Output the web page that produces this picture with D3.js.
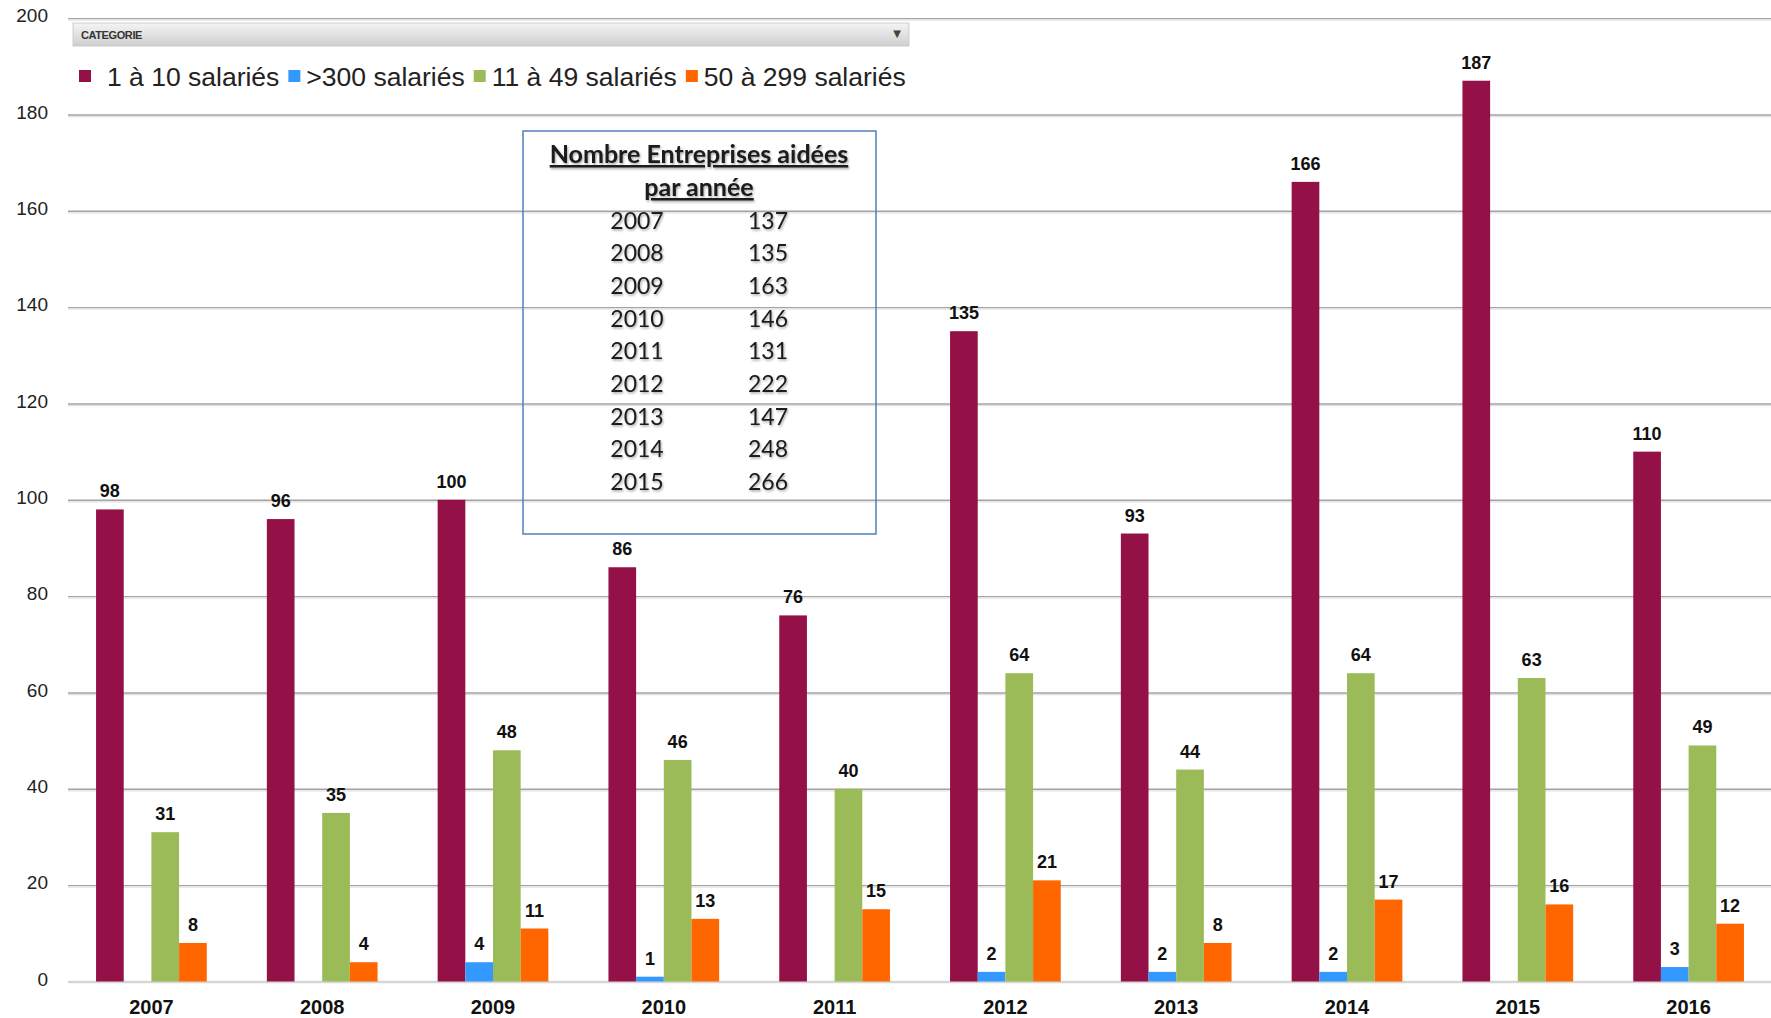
<!DOCTYPE html>
<html>
<head>
<meta charset="utf-8">
<script src="https://cdn.jsdelivr.net/npm/d3@7"></script>
<style>
  html, body { margin: 0; padding: 0; background: #fff; }
  svg { display: block; }
</style>
</head>
<body>
<svg id="chart" width="1771" height="1018"></svg>
<script>
// ---------- DATA ----------
const years = ["2007","2008","2009","2010","2011","2012","2013","2014","2015","2016"];
const seriesNames = ["1 à 10 salariés", ">300 salariés", "11 à 49 salariés", "50 à 299 salariés"];
const seriesColors = ["#941148", "#3399FF", "#9BBB59", "#FF6600"];
const s1to10 = [98, 96, 100, 86, 76, 135, 93, 166, 187, 110];
const sOver300 = [0, 0, 4, 1, 0, 2, 2, 2, 0, 3];
const s11to49 = [31, 35, 48, 46, 40, 64, 44, 64, 63, 49];
const s50to299 = [8, 4, 11, 13, 15, 21, 8, 17, 16, 12];
const yTicks = [0, 20, 40, 60, 80, 100, 120, 140, 160, 180, 200];
const boxTitle = ["Nombre Entreprises aidées", "par année"];
const boxYears = ["2007","2008","2009","2010","2011","2012","2013","2014","2015"];
const boxTotals = [137, 135, 163, 146, 131, 222, 147, 248, 266];
const filterLabel = "CATEGORIE";

const seriesValues = [s1to10, sOver300, s11to49, s50to299];

// ---------- LAYOUT ----------
const svg = d3.select("#chart");
const W = 1771, H = 1018;
const plotLeft = 66, plotRight = 1774;
const y0 = 981.5, y200 = 18.1;

const x = d3.scaleBand().domain(years).range([plotLeft, plotRight]).padding(0);
const groupW = 110.7;
const xs = d3.scaleBand().domain(seriesNames).range([0, groupW]).padding(0);
const y = d3.scaleLinear().domain([0, 200]).range([y0, y200]);

const defs = svg.append("defs");
const grad = defs.append("linearGradient").attr("id", "dd").attr("x1", 0).attr("x2", 0).attr("y1", 0).attr("y2", 1);
grad.append("stop").attr("offset", "0%").attr("stop-color", "#f4f4f4");
grad.append("stop").attr("offset", "100%").attr("stop-color", "#cfcfcf");
const f = defs.append("filter").attr("id", "glow").attr("x", "-10%").attr("y", "-30%").attr("width", "120%").attr("height", "160%");
f.append("feDropShadow").attr("dx", 1).attr("dy", 1.5).attr("stdDeviation", 1.2).attr("flood-color", "#000").attr("flood-opacity", 0.35);

// gridlines
const yAxis = d3.axisLeft(y).tickValues(yTicks).tickSizeInner(-(W - plotLeft + 2)).tickSizeOuter(0).tickPadding(20);
const gy = svg.append("g").attr("transform", `translate(${plotLeft + 2},0)`).call(yAxis);
gy.select(".domain").remove();
gy.selectAll(".tick line").attr("stroke", "#a3a3a3").attr("stroke-width", 1.4);
gy.selectAll(".tick").filter(d => d === 0).select("line").attr("stroke", "#d6d6d6").attr("stroke-width", 2.5);
gy.selectAll(".tick").filter(d => d !== 0).insert("line", "text")
  .attr("x2", W - plotLeft).attr("y1", 1.6).attr("y2", 1.6)
  .attr("stroke", "#e2e2e2").attr("stroke-width", 1.2);
gy.selectAll(".tick text")
  .attr("font-family", "Liberation Sans, Arial, sans-serif")
  .attr("font-size", 19).attr("fill", "#222").attr("dy", "0.2em");

// bars
const groups = svg.append("g").selectAll("g")
  .data(years).join("g")
  .attr("transform", d => `translate(${x(d) + (x.bandwidth() - groupW) / 2},0)`);

groups.each(function(yr, i) {
  const g = d3.select(this);
  seriesNames.forEach((s, k) => {
    const v = seriesValues[k][i];
    if (v > 0) {
      g.append("rect")
        .attr("x", xs(s)).attr("width", xs.bandwidth())
        .attr("y", y(v)).attr("height", y(0) - y(v))
        .attr("fill", seriesColors[k]);
      g.append("text")
        .attr("x", xs(s) + xs.bandwidth() / 2).attr("y", y(v) - 12)
        .attr("text-anchor", "middle")
        .attr("font-family", "Liberation Sans, Arial, sans-serif")
        .attr("font-weight", "bold").attr("font-size", 18).attr("fill", "#111")
        .text(v);
    }
  });
});

// x axis labels
const xAxis = d3.axisBottom(x).tickSize(0).tickPadding(18);
const gx = svg.append("g").attr("transform", `translate(0,${y0})`).call(xAxis);
gx.select(".domain").remove();
gx.selectAll(".tick text")
  .attr("font-family", "Liberation Sans, Arial, sans-serif")
  .attr("font-weight", "bold").attr("font-size", 20).attr("fill", "#111");

// dropdown bar
svg.append("rect").attr("x", 73).attr("y", 23).attr("width", 836).attr("height", 23)
  .attr("fill", "url(#dd)").attr("stroke", "#c4c4c4").attr("stroke-width", 0.8);
svg.append("text").attr("x", 81).attr("y", 38.5)
  .attr("font-family", "Liberation Sans, Arial, sans-serif").attr("font-size", 11)
  .attr("font-weight", "bold").attr("fill", "#333").attr("letter-spacing", -0.4)
  .text(filterLabel);
svg.append("text").attr("x", 897).attr("y", 37).attr("text-anchor", "middle")
  .attr("font-family", "DejaVu Sans, sans-serif").attr("font-size", 10).attr("fill", "#444")
  .text("▼");

// legend
const leg = svg.append("g").attr("transform", "translate(79,76)");
let lx = 0;
seriesNames.forEach((s, k) => {
  leg.append("rect").attr("x", lx).attr("y", -6).attr("width", 12).attr("height", 12).attr("fill", seriesColors[k]);
  lx += (k === 0 ? 28 : 18);
  const t = leg.append("text").attr("x", lx).attr("y", 9.5)
    .attr("font-family", "Liberation Sans, Arial, sans-serif").attr("font-size", 26.5).attr("fill", "#222")
    .text(s);
  lx += t.node().getComputedTextLength() + 9;
});

// text box
svg.append("rect").attr("x", 523).attr("y", 131).attr("width", 353).attr("height", 403)
  .attr("fill", "none").attr("stroke", "#4f81bd").attr("stroke-width", 1.5);
const tb = svg.append("g").attr("filter", "url(#glow)");
boxTitle.forEach((t, i) => {
  tb.append("text").attr("x", 699).attr("y", 163 + i * 33)
    .attr("text-anchor", "middle")
    .attr("font-family", "Lato, Open Sans, sans-serif").attr("font-weight", "bold")
    .attr("font-size", 25).attr("fill", "#1a1a1a")
    .attr("text-decoration", "underline")
    .text(t);
});
boxYears.forEach((yr, i) => {
  tb.append("text").attr("x", 637).attr("y", 228.5 + i * 32.7).attr("text-anchor", "middle")
    .attr("font-family", "Lato, Open Sans, sans-serif").attr("font-size", 23).attr("fill", "#1a1a1a")
    .text(yr);
  tb.append("text").attr("x", 768).attr("y", 228.5 + i * 32.7).attr("text-anchor", "middle")
    .attr("font-family", "Lato, Open Sans, sans-serif").attr("font-size", 23).attr("fill", "#1a1a1a")
    .text(boxTotals[i]);
});
</script>
</body>
</html>
